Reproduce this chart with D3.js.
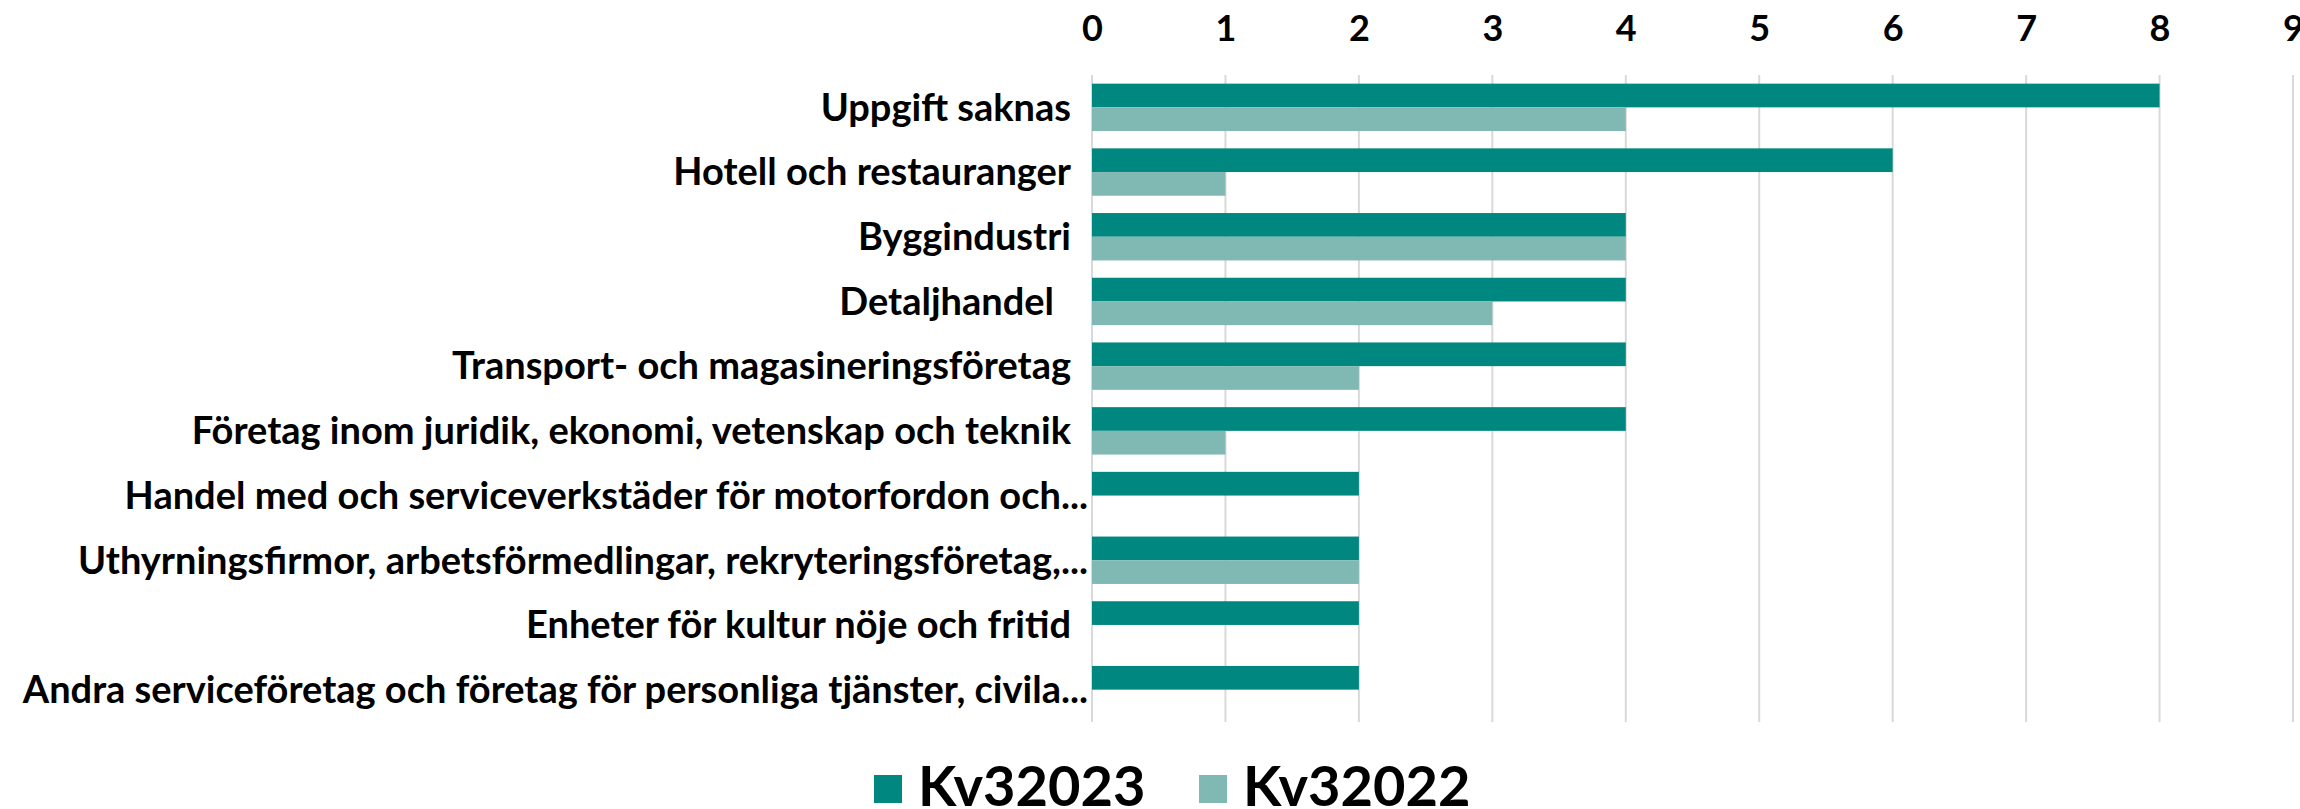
<!DOCTYPE html>
<html>
<head>
<meta charset="utf-8">
<script src="https://cdn.jsdelivr.net/npm/d3@7"></script>
<style>
    body { margin: 0; background: #fff; }
    text { font-family: Lato, "Open Sans", sans-serif; font-weight: 700; fill: #000; }
</style>
</head>
<body>
<svg id="chart"></svg>
<script>
// categories, top to bottom (trailing spaces are kept as in the source chart)
const categories = [
    'Uppgift saknas ',
    'Hotell och restauranger ',
    'Byggindustri ',
    'Detaljhandel  ',
    'Transport- och magasineringsföretag ',
    'Företag inom juridik, ekonomi, vetenskap och teknik ',
    'Handel med och serviceverkstäder för motorfordon och...',
    'Uthyrningsfirmor, arbetsförmedlingar, rekryteringsföretag,...',
    'Enheter för kultur nöje och fritid ',
    'Andra serviceföretag och företag för personliga tjänster, civila...'
];
const seriesNames = ['Kv32023', 'Kv32022'];
const kv32023 = [8, 6, 4, 4, 4, 4, 2, 2, 2, 2];
const kv32022 = [4, 1, 4, 3, 2, 1, 0, 2, 0, 0];
const xTicks = [0, 1, 2, 3, 4, 5, 6, 7, 8, 9];
const colors = ['#00877f', '#80b9b3'];

const config = {
    width: 2300,
    height: 809,
    margin: {top: 75, right: 7, bottom: 87, left: 1092},
    spaceWidth: 17
};

const svg = d3.select('#chart')
    .attr('width', config.width)
    .attr('height', config.height);

const innerW = config.width - config.margin.left - config.margin.right;
const innerH = config.height - config.margin.top - config.margin.bottom;

const g = svg.append('g')
    .attr('transform', `translate(${config.margin.left},${config.margin.top})`);

const xScale = d3.scaleLinear().domain([0, 9]).range([0, innerW]);
const yScale = d3.scaleBand().domain(categories).range([0, innerH]).padding(0);
const ySub = d3.scaleBand().domain(seriesNames).range([0, yScale.bandwidth()])
    .paddingInner(0).paddingOuter(0.365);
const color = d3.scaleOrdinal().domain(seriesNames).range(colors);

// gridlines
g.append('g')
    .selectAll('line')
    .data(xTicks)
    .join('line')
        .attr('x1', d => xScale(d))
        .attr('x2', d => xScale(d))
        .attr('y1', 0)
        .attr('y2', innerH)
        .attr('stroke', '#d9d9d9')
        .attr('stroke-width', 2);

// top axis labels
const xAxis = d3.axisTop(xScale)
    .tickValues(xTicks)
    .tickSize(0)
    .tickPadding(34);
const xAxisG = g.append('g').call(xAxis);
xAxisG.select('.domain').remove();
xAxisG.selectAll('text')
    .style('font-family', 'Lato, sans-serif')
    .style('font-weight', 700)
    .attr('font-size', 36)
    .attr('fill', '#000');

// bars
const rows = categories.map((c, i) => ({cat: c, values: [kv32023[i], kv32022[i]]}));
g.append('g')
    .selectAll('g')
    .data(rows)
    .join('g')
        .attr('transform', d => `translate(0,${yScale(d.cat)})`)
    .selectAll('rect')
    .data(d => d.values.map((v, j) => ({key: seriesNames[j], value: v})))
    .join('rect')
        .attr('x', xScale(0))
        .attr('y', d => ySub(d.key))
        .attr('width', d => xScale(d.value) - xScale(0))
        .attr('height', ySub.bandwidth())
        .attr('fill', d => color(d.key));

// category labels
const trailing = s => s.length - s.trimEnd().length;
g.append('g')
    .selectAll('text')
    .data(categories)
    .join('text')
        .attr('x', d => -4 - trailing(d) * config.spaceWidth)
        .attr('y', d => yScale(d) + yScale.bandwidth() / 2)
        .attr('dy', '0.35em')
        .attr('text-anchor', 'end')
        .attr('font-size', 38)
        .text(d => d.trimEnd());

// legend
const legendX = [874, 1199];
const legend = svg.append('g').attr('class', 'legend');
seriesNames.forEach((s, i) => {
    legend.append('rect')
        .attr('x', legendX[i])
        .attr('y', 775)
        .attr('width', 28)
        .attr('height', 28)
        .attr('fill', color(s));
    legend.append('text')
        .attr('x', legendX[i] + 44)
        .attr('y', 806)
        .attr('font-size', 56)
        .text(s);
});
</script>
</body>
</html>
